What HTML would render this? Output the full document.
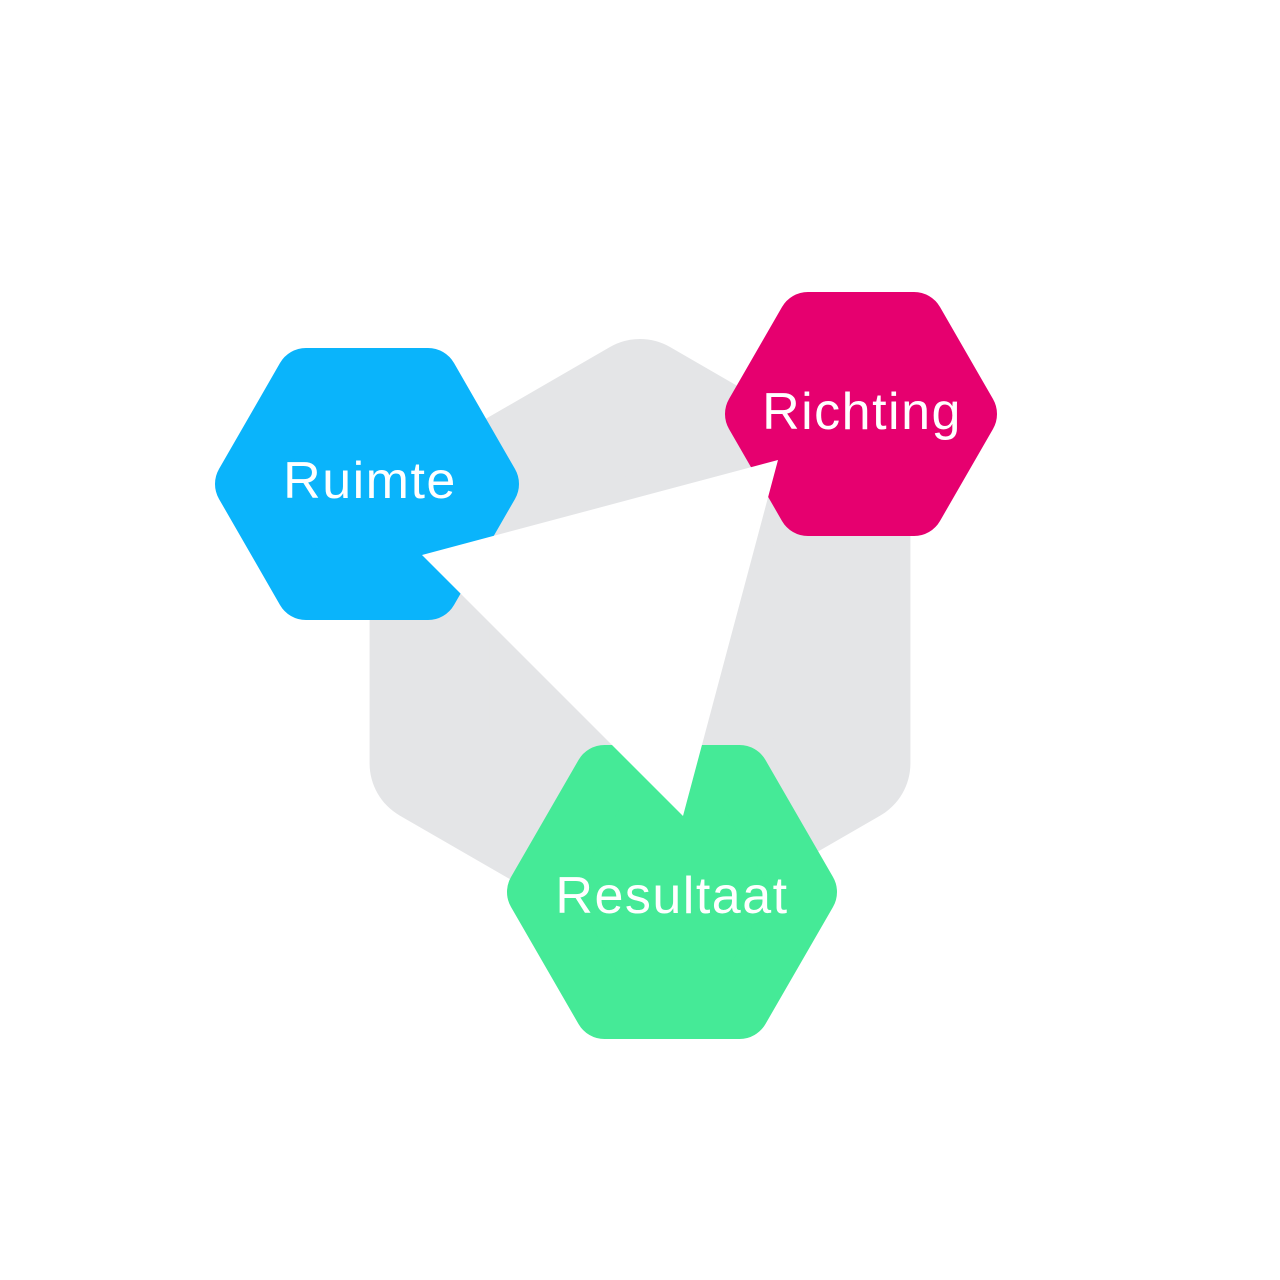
<!DOCTYPE html>
<html><head><meta charset="utf-8"><style>html,body{margin:0;padding:0;background:#fff}svg{display:block}</style></head>
<body>
<svg width="1280" height="1280" viewBox="0 0 1280 1280" xmlns="http://www.w3.org/2000/svg">
<polygon points="640,399 850.4,520.5 850.4,763.5 640,885 429.6,763.5 429.6,520.5" fill="#e4e5e7" stroke="#e4e5e7" stroke-width="120" stroke-linejoin="round"/>
<polygon points="489,484 428,378 306,378 245,484 306,590 428,590" fill="#0ab4fb" stroke="#0ab4fb" stroke-width="60" stroke-linejoin="round"/>
<polygon points="967,414 914,322 808,322 755,414 808,506 914,506" fill="#e6006f" stroke="#e6006f" stroke-width="60" stroke-linejoin="round"/>
<polygon points="807,892 739.5,775 604.5,775 537,892 604.5,1009 739.5,1009" fill="#45ea97" stroke="#45ea97" stroke-width="60" stroke-linejoin="round"/>
<polygon points="778,460 422,555 683,816" fill="#fff"/>
<g font-family="Liberation Sans, sans-serif" font-size="52" fill="#fff" text-anchor="middle" letter-spacing="1.5">
<text x="370" y="498">Ruimte</text>
<text x="862" y="429">Richting</text>
<text x="672" y="913">Resultaat</text>
</g>
</svg>
</body></html>
